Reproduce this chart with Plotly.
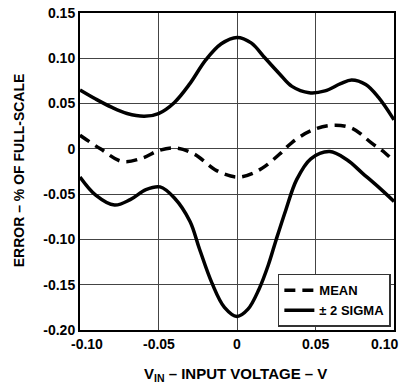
import plotly.graph_objects as go

# Data
x_mean = [-0.100, -0.087, -0.073, -0.060, -0.050, -0.039, -0.027, -0.014, -0.004, 0.002, 0.010, 0.018, 0.027, 0.035, 0.047, 0.060, 0.073, 0.086, 0.094, 0.100]
y_mean = [0.015, 0.000, -0.014, -0.010, -0.002, 0.001, -0.006, -0.023, -0.030, -0.031, -0.027, -0.019, -0.006, 0.007, 0.020, 0.026, 0.023, 0.006, -0.004, -0.014]

x_upper = [-0.100, -0.090, -0.080, -0.070, -0.059, -0.050, -0.040, -0.030, -0.020, -0.010, 0.000, 0.009, 0.018, 0.027, 0.035, 0.046, 0.056, 0.066, 0.073, 0.082, 0.090, 0.100]
y_upper = [0.065, 0.055, 0.046, 0.039, 0.036, 0.039, 0.051, 0.072, 0.098, 0.116, 0.123, 0.117, 0.100, 0.083, 0.069, 0.062, 0.064, 0.072, 0.076, 0.071, 0.057, 0.032]

x_lower = [-0.100, -0.090, -0.078, -0.068, -0.058, -0.049, -0.040, -0.030, -0.024, -0.016, -0.008, 0.000, 0.007, 0.014, 0.020, 0.025, 0.031, 0.038, 0.047, 0.059, 0.070, 0.080, 0.090, 0.100]
y_lower = [-0.031, -0.051, -0.062, -0.056, -0.045, -0.042, -0.054, -0.080, -0.110, -0.148, -0.175, -0.185, -0.177, -0.155, -0.128, -0.100, -0.068, -0.034, -0.011, -0.003, -0.012, -0.027, -0.042, -0.058]

x_ticks = [-0.10, -0.05, 0, 0.05, 0.10]
x_ticktext = ["-0.10", "-0.05", "0", "0.05", "0.10"]
y_ticks = [0.15, 0.10, 0.05, 0, -0.05, -0.10, -0.15, -0.20]
y_ticktext = ["0.15", "0.10", "0.05", "0", "-0.05", "-0.10", "-0.15", "-0.20"]

x_title = "V<sub>IN</sub> – INPUT VOLTAGE – V"
y_title = "ERROR – % OF FULL-SCALE"

FONT = "Liberation Sans, Arial, sans-serif"
FS = 14

fig = go.Figure()
fig.add_trace(go.Scatter(x=x_mean, y=y_mean, mode="lines", name="<b>MEAN</b>",
                         line=dict(color="black", width=3.5, dash="11px,7px", shape="spline", smoothing=1.0)))
fig.add_trace(go.Scatter(x=x_upper, y=y_upper, mode="lines", name="<b>± 2 SIGMA</b>",
                         line=dict(color="black", width=3.5, shape="spline", smoothing=1.0)))
fig.add_trace(go.Scatter(x=x_lower, y=y_lower, mode="lines", name="lower", showlegend=False,
                         line=dict(color="black", width=3.5, shape="spline", smoothing=1.0)))

# x tick labels as annotations (end labels are pulled inward in the reference)
shifts = {0: 7, len(x_ticks) - 1: -10}
for i, (v, t) in enumerate(zip(x_ticks, x_ticktext)):
    fig.add_annotation(x=v, y=0, xref="x", yref="paper", text=f"<b>{t}</b>", showarrow=False,
                       xanchor="center", yanchor="top", yshift=-4, xshift=shifts.get(i, 0),
                       font=dict(size=FS, family=FONT, color="black"))

fig.add_annotation(x=0.494, y=-0.139, xref="paper", yref="paper", text=f"<b>{x_title}</b>",
                   showarrow=False, xanchor="center", yanchor="middle",
                   font=dict(size=15, family=FONT, color="black"))
fig.add_annotation(x=-0.193, y=0.505, xref="paper", yref="paper", text=f"<b>{y_title}</b>",
                   showarrow=False, xanchor="center", yanchor="middle", textangle=-90,
                   font=dict(size=FS, family=FONT, color="black"))

fig.update_layout(
    width=401, height=383,
    margin=dict(l=80, r=5, t=13, b=53),
    paper_bgcolor="white", plot_bgcolor="white",
    font=dict(family=FONT, size=FS, color="black"),
    showlegend=True,
    legend=dict(x=0.99, y=0.01, xanchor="right", yanchor="bottom",
                bordercolor="#333", borderwidth=1.5, bgcolor="white",
                font=dict(size=13, family=FONT), tracegroupgap=0,
                itemwidth=30),
    xaxis=dict(range=[-0.10, 0.10], tickvals=x_ticks, showticklabels=False,
               showgrid=True, gridcolor="#444", gridwidth=1, zeroline=False,
               showline=True, linecolor="black", linewidth=2, mirror=True, ticks=""),
    yaxis=dict(range=[-0.20, 0.15], tickvals=y_ticks, ticktext=[f"<b>{t}</b>" for t in y_ticktext],
               showgrid=True, gridcolor="#444", gridwidth=1, zeroline=False,
               showline=True, linecolor="black", linewidth=2, mirror=True,
               ticks="", tickfont=dict(size=FS, family=FONT)),
)

fig.write_html("out.html")
